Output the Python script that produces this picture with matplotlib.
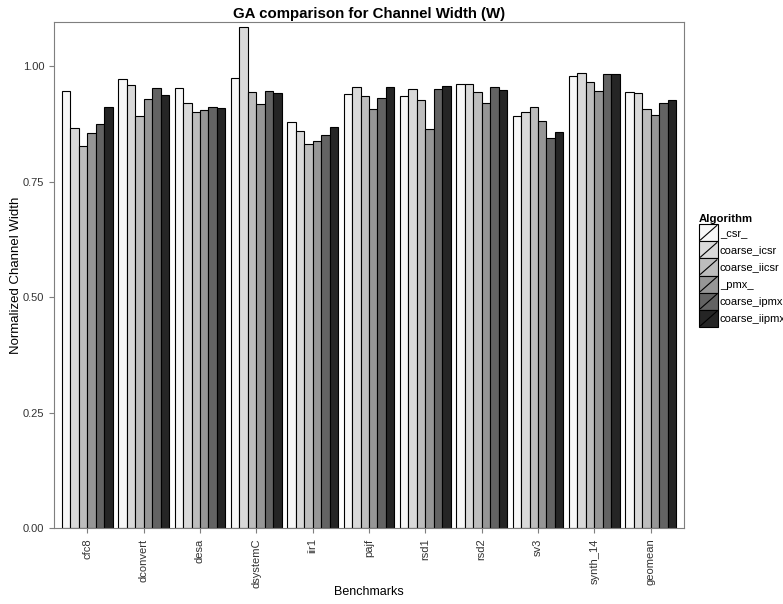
import numpy as np
import matplotlib
matplotlib.use('Agg')
import matplotlib.pyplot as plt
from matplotlib.patches import Rectangle
from matplotlib.lines import Line2D
from matplotlib.legend_handler import HandlerPatch

plt.rcParams['font.family'] = ['Liberation Sans', 'DejaVu Sans']

# Dados
benchmarks = ['cfc8', 'dconvert', 'desa', 'dsystemC', 'iir1', 'pajf',
              'rsd1', 'rsd2', 'sv3', 'synth_14', 'geomean']
algorithms = ['_csr_', 'coarse_icsr', 'coarse_iicsr', '_pmx_',
              'coarse_ipmx', 'coarse_iipmx']
csr = [0.947, 0.973, 0.953, 0.975, 0.879, 0.940, 0.936, 0.962, 0.891, 0.978, 0.943]
coarse_icsr = [0.866, 0.959, 0.920, 1.085, 0.859, 0.955, 0.950, 0.961, 0.900, 0.984, 0.942]
coarse_iicsr = [0.827, 0.891, 0.901, 0.944, 0.831, 0.936, 0.926, 0.944, 0.912, 0.965, 0.907]
pmx = [0.855, 0.929, 0.905, 0.918, 0.837, 0.906, 0.863, 0.920, 0.881, 0.945, 0.895]
coarse_ipmx = [0.874, 0.952, 0.912, 0.946, 0.851, 0.931, 0.950, 0.955, 0.844, 0.982, 0.919]
coarse_iipmx = [0.912, 0.937, 0.910, 0.941, 0.868, 0.955, 0.957, 0.949, 0.857, 0.982, 0.926]
series = [csr, coarse_icsr, coarse_iicsr, pmx, coarse_ipmx, coarse_iipmx]
cores = ['#F7F7F7', '#D9D9D9', '#BDBDBD', '#969696', '#636363', '#252525']


# legenda com a barra diagonal do ggplot
class HandlerSlash(HandlerPatch):
    def create_artists(self, legend, orig_handle, xdescent, ydescent,
                       width, height, fontsize, trans):
        r = Rectangle((-xdescent, -ydescent), width, height,
                      facecolor=orig_handle.get_facecolor(),
                      edgecolor='black', linewidth=0.8, transform=trans)
        l = Line2D([-xdescent + 1, -xdescent + width - 1],
                   [-ydescent + 1, -ydescent + height - 1],
                   color='black', linewidth=0.8, transform=trans)
        return [r, l]


fig = plt.figure(figsize=(7.83, 6.04), dpi=100)
ax = fig.add_axes([53.5 / 783, 1 - 528 / 604, 631 / 783, 506.3 / 604])

x = np.arange(1, len(benchmarks) + 1)
n = len(algorithms)
w = 0.9 / n
handles = []
for i, (vals, c) in enumerate(zip(series, cores)):
    ax.bar(x - 0.45 + w / 2 + i * w, vals, width=w, color=c,
           edgecolor='black', linewidth=0.8, label=algorithms[i])
    handles.append(Rectangle((0, 0), 1, 1, facecolor=c))

ax.set_xlim(0.4, 11.6)
ax.set_ylim(0, 1.096)
ax.set_yticks([0, 0.25, 0.5, 0.75, 1.0])
ax.set_yticklabels(['0.00', '0.25', '0.50', '0.75', '1.00'])
ax.set_xticks(x)
ax.set_xticklabels(benchmarks, rotation=90)
ax.tick_params(axis='both', colors='#7f7f7f', length=3.5, width=0.8,
               labelsize=8, labelcolor='#333333')
ax.tick_params(axis='x', pad=4)
ax.tick_params(axis='y', pad=3)
for s in ax.spines.values():
    s.set_color('#7f7f7f')
    s.set_linewidth(0.8)

ax.set_title('GA comparison for Channel Width (W)', fontsize=10.8,
             fontweight='bold', pad=3)
ax.set_xlabel('Benchmarks', fontsize=9)
ax.set_ylabel('Normalized Channel Width', fontsize=9.5)
ax.xaxis.set_label_coords(0.5, (528 - 586) / 506.3)
ax.yaxis.set_label_coords((22 - 53.5) / 631, 0.5)

leg = fig.legend(handles, algorithms,
                 handler_map={Rectangle: HandlerSlash(xpad=0, ypad=0)},
                 loc='upper left', bbox_to_anchor=(698 / 783, 1 - 213 / 604),
                 frameon=False, fontsize=8, title='Algorithm',
                 title_fontproperties={'weight': 'bold', 'size': 8.2},
                 handlelength=1.72, handleheight=2.0, labelspacing=0,
                 handletextpad=0.15, borderpad=0.1, borderaxespad=0,
                 alignment='left')

fig.savefig('out.png', dpi=100)
